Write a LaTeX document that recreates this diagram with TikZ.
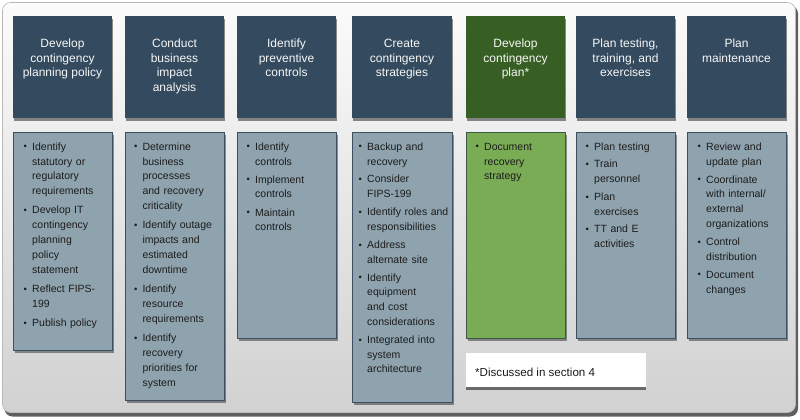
\documentclass[tikz,border=0pt]{standalone}
\usepackage{fontspec}
\setmainfont{Liberation Sans}
\usetikzlibrary{shadows}
\definecolor{hdrc}{RGB}{52,74,94}
\definecolor{hdrg}{RGB}{55,95,35}
\definecolor{bdyc}{RGB}{143,163,174}
\definecolor{bdyg}{RGB}{122,172,86}
\definecolor{bdrc}{RGB}{58,80,98}
\definecolor{bdrg}{RGB}{62,88,70}
\definecolor{txtc}{RGB}{28,28,28}
\definecolor{framesh}{RGB}{95,95,95}
\newcommand{\bl}{\leavevmode\rule{0pt}{8pt}\llap{\makebox[8.5pt][l]{\raisebox{0.3pt}{\scalebox{0.9}{\textbullet}}}}}
\newcommand{\bsetup}{\leftskip=8.5pt\parindent=0pt\parskip=0pt}
\begin{document}
\begin{tikzpicture}[x=1pt,y=-1pt,
  hdrbox/.style={anchor=north west, minimum width=99pt, minimum height=102pt, inner sep=0pt, fill=hdrc,
     drop shadow={shadow xshift=0.6pt, shadow yshift=-2.6pt, opacity=0.45, fill=black}},
  hdrtxt/.style={anchor=north, inner sep=0pt, align=center, text=white!94!gray, font=\fontsize{12}{14.5}\selectfont},
  bodybox/.style={anchor=north west, minimum width=99pt, inner sep=0pt, fill=bdyc, draw=bdrc, line width=1.2pt,
     drop shadow={shadow xshift=1pt, shadow yshift=-2.6pt, opacity=0.4, fill=black}},
  bodytxt/.style={anchor=north west, inner sep=0pt, text width=94pt, align=left, text=txtc, font=\fontsize{10.5}{14.8}\selectfont},
  fnbox/.style={anchor=north west, minimum width=180pt, minimum height=34pt, inner sep=0pt, fill=white,
     drop shadow={shadow xshift=0pt, shadow yshift=-2.6pt, opacity=0.5, fill=black}},
  fntxt/.style={anchor=base west, inner sep=0pt, text=txtc, font=\fontsize{11.6}{14}\selectfont}
]
\useasboundingbox (0,0) rectangle (800,420);
% outer frame
\fill[rounded corners=8pt, fill=framesh] (4.5,5.5) rectangle (798,416.5);
\shade[rounded corners=8pt, top color=white!97!gray, bottom color=gray!36, draw=gray!55, line width=0.6pt] (2.5,2.5) rectangle (795.5,412.5);

% headers
\node[hdrbox] (h1) at (13,16) {};
\node[hdrbox] (h2) at (125,16) {};
\node[hdrbox] (h3) at (237,16) {};
\node[hdrbox, minimum width=100pt] (h4) at (352,16) {};
\node[hdrbox, fill=hdrg] (h5) at (466,16) {};
\node[hdrbox] (h6) at (576,16) {};
\node[hdrbox] (h7) at (687,16) {};

\node[hdrtxt] (ht1) at (62.5,38.6) {\rule{0pt}{9pt}Develop\\contingency\\planning policy};
\node[hdrtxt] (ht2) at (174.5,38.6) {\rule{0pt}{9pt}Conduct\\business\\impact\\analysis};
\node[hdrtxt] (ht3) at (286.5,38.6) {\rule{0pt}{9pt}Identify\\preventive\\controls};
\node[hdrtxt] (ht4) at (402,38.6) {\rule{0pt}{9pt}Create\\contingency\\strategies};
\node[hdrtxt] (ht5) at (515.5,38.6) {\rule{0pt}{9pt}Develop\\contingency\\plan*};
\node[hdrtxt] (ht6) at (625.5,38.6) {\rule{0pt}{9pt}Plan testing,\\training, and\\exercises};
\node[hdrtxt] (ht7) at (736.5,38.6) {\rule{0pt}{9pt}Plan\\maintenance};

% body boxes
\node[bodybox, minimum height=218pt] (b1) at (13,132) {};
\node[bodybox, minimum height=268pt] (b2) at (125,132) {};
\node[bodybox, minimum height=206pt] (b3) at (237,132) {};
\node[bodybox, minimum height=270pt, minimum width=100pt] (b4) at (352,132) {};
\node[bodybox, minimum height=206pt, fill=bdyg, draw=bdrg] (b5) at (466,132) {};
\node[bodybox, minimum height=206pt] (b6) at (576,132) {};
\node[bodybox, minimum height=206pt] (b7) at (687,132) {};

% body texts
\node[bodytxt] (bt1) at (23.5,142) {\bsetup
\bl Identify\\statutory or\\regulatory\\requirements\\[4.5pt]
\bl Develop IT\\contingency\\planning\\policy\\statement\\[4.5pt]
\bl Reflect FIPS-\\199\\[4.5pt]
\bl Publish policy\par};
\node[bodytxt] (bt2) at (133.8,142) {\bsetup
\bl Determine\\business\\processes\\and recovery\\criticality\\[4.6pt]
\bl Identify outage\\impacts and\\estimated\\downtime\\[4.6pt]
\bl Identify\\resource\\requirements\\[4.6pt]
\bl Identify\\recovery\\priorities for\\system\par};
\node[bodytxt] (bt3) at (246.5,142) {\bsetup
\bl Identify\\controls\\[3.3pt]
\bl Implement\\controls\\[3.3pt]
\bl Maintain\\controls\par};
\node[bodytxt] (bt4) at (358.5,142) {\bsetup
\bl Backup and\\recovery\\[3.1pt]
\bl Consider\\FIPS-199\\[3.1pt]
\bl Identify roles and\\responsibilities\\[3.1pt]
\bl Address\\alternate site\\[3.1pt]
\bl Identify\\equipment\\and cost\\considerations\\[3.1pt]
\bl Integrated into\\system\\architecture\par};
\node[bodytxt] (bt5) at (475.5,142) {\bsetup
\bl Document\\recovery\\strategy\par};
\node[bodytxt] (bt6) at (585.5,142) {\bsetup
\bl Plan testing\\[2.9pt]
\bl Train\\personnel\\[2.9pt]
\bl Plan\\exercises\\[2.9pt]
\bl TT and E\\activities\par};
\node[bodytxt] (bt7) at (697.5,142) {\bsetup
\bl Review and\\update plan\\[3.2pt]
\bl Coordinate\\with internal/\\external\\organizations\\[3.2pt]
\bl Control\\distribution\\[3.2pt]
\bl Document\\changes\par};

% footnote
\node[fnbox] (fn) at (466,353) {};
\node[fntxt] (fnt) at (475,376.6) {*Discussed in section 4};
\end{tikzpicture}
\end{document}
